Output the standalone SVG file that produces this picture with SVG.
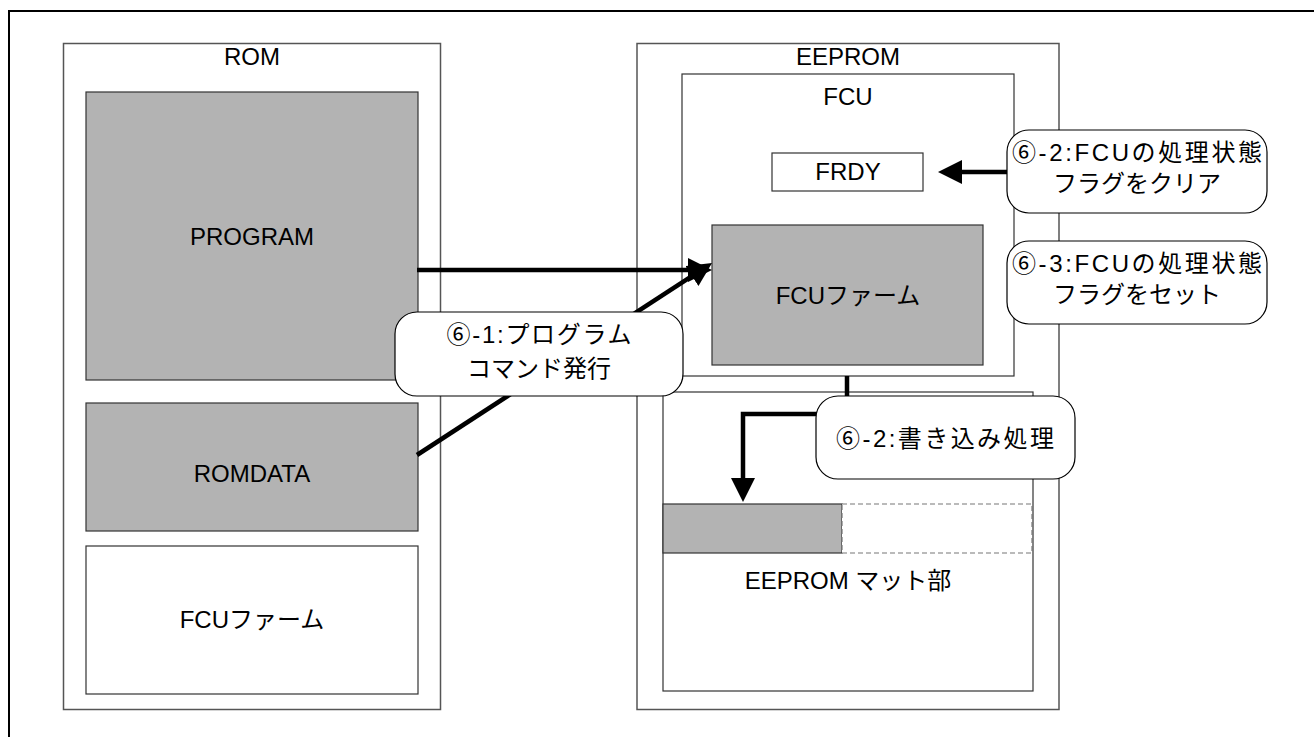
<svg xmlns="http://www.w3.org/2000/svg" width="1314" height="737" viewBox="0 0 1314 737">
  <style>
    .frame { fill: none; stroke: #000; stroke-width: 2; }
    .box { fill: #fff; stroke: #555; stroke-width: 1.5; }
    .inner { fill: #fff; stroke: #333; stroke-width: 1.2; }
    .shade { fill: #b3b3b3; stroke: #333; stroke-width: 1.2; }
    .dash { fill: #fff; stroke: #777; stroke-width: 1.2; stroke-dasharray: 5 3; }
    .callout { fill: #fff; stroke: #000; stroke-width: 1.2; }
    .wire { fill: none; stroke: #000; stroke-width: 4.5; }
    text { font-family: "Liberation Sans", "Noto Sans CJK JP", sans-serif; font-size: 24px; fill: #000; text-anchor: middle; }
  </style>
  <defs>
    <!-- arrowhead: the line stops 14px short of the tip so its square end stays hidden -->
    <marker id="head" markerUnits="userSpaceOnUse" markerWidth="26" markerHeight="26" refX="10" refY="12" orient="auto">
      <path d="M0,0 L24,12 L0,24 Z" fill="#000"/>
    </marker>
  </defs>

  <!-- page frame -->
  <rect class="frame" x="9" y="11" width="1320" height="740"/>

  <!-- ROM -->
  <g id="rom">
    <rect class="box" x="63.5" y="43.5" width="377" height="666"/>
    <text x="252" y="65">ROM</text>
  </g>
  <g id="rom-program">
    <rect class="shade" x="86" y="92" width="332" height="288"/>
    <text x="252" y="245">PROGRAM</text>
  </g>
  <g id="rom-romdata">
    <rect class="shade" x="86" y="403" width="332" height="128"/>
    <text x="252" y="482">ROMDATA</text>
  </g>
  <g id="rom-fcu-firm">
    <rect class="inner" x="86" y="546" width="332" height="148"/>
    <text x="252" y="628">FCUファーム</text>
  </g>

  <!-- EEPROM -->
  <g id="eeprom">
    <rect class="box" x="637" y="43.5" width="422" height="666"/>
    <text x="848" y="65">EEPROM</text>
  </g>
  <g id="eeprom-mat">
    <rect class="inner" x="663" y="392" width="370" height="299"/>
    <rect class="shade" x="663" y="504" width="179" height="49"/>
    <rect class="dash" x="842" y="504" width="190" height="49"/>
    <text x="848" y="589">EEPROM マット部</text>
  </g>
  <g id="fcu">
    <rect class="inner" x="682" y="74" width="332" height="302"/>
    <text x="848" y="105">FCU</text>
  </g>
  <g id="frdy">
    <rect class="inner" x="772" y="153" width="151" height="38"/>
    <text x="848" y="180">FRDY</text>
  </g>
  <g id="fcu-firm">
    <rect class="shade" x="712" y="225" width="271" height="140"/>
    <text x="848" y="304">FCUファーム</text>
  </g>

  <!-- connectors -->
  <g id="connectors">
    <line class="wire" x1="417" y1="270" x2="698" y2="270" marker-end="url(#head)"/>
    <line class="wire" x1="417" y1="455" x2="700.3" y2="270.6" marker-end="url(#head)"/>
    <line class="wire" x1="1007" y1="172" x2="952" y2="172" marker-end="url(#head)"/>
    <path class="wire" d="M847,376 V414 H743 V488" marker-end="url(#head)"/>
  </g>

  <!-- step callouts -->
  <g id="step-1">
    <rect class="callout" x="395" y="312" width="288" height="84" rx="22"/>
    <text x="539" y="343" textLength="185" lengthAdjust="spacing">⑥-1:プログラム</text>
    <text x="539" y="377">コマンド発行</text>
  </g>
  <g id="step-2-write">
    <rect class="callout" x="816" y="396" width="259" height="83" rx="22"/>
    <text x="945" y="447" textLength="218" lengthAdjust="spacing">⑥-2:書き込み処理</text>
  </g>
  <g id="step-2-clear">
    <rect class="callout" x="1007" y="130" width="260" height="83" rx="22"/>
    <text x="1137" y="161" textLength="250" lengthAdjust="spacing">⑥-2:FCUの処理状態</text>
    <text x="1137" y="192">フラグをクリア</text>
  </g>
  <g id="step-3-set">
    <rect class="callout" x="1007" y="241" width="260" height="83" rx="22"/>
    <text x="1137" y="272" textLength="250" lengthAdjust="spacing">⑥-3:FCUの処理状態</text>
    <text x="1137" y="303">フラグをセット</text>
  </g>
</svg>
